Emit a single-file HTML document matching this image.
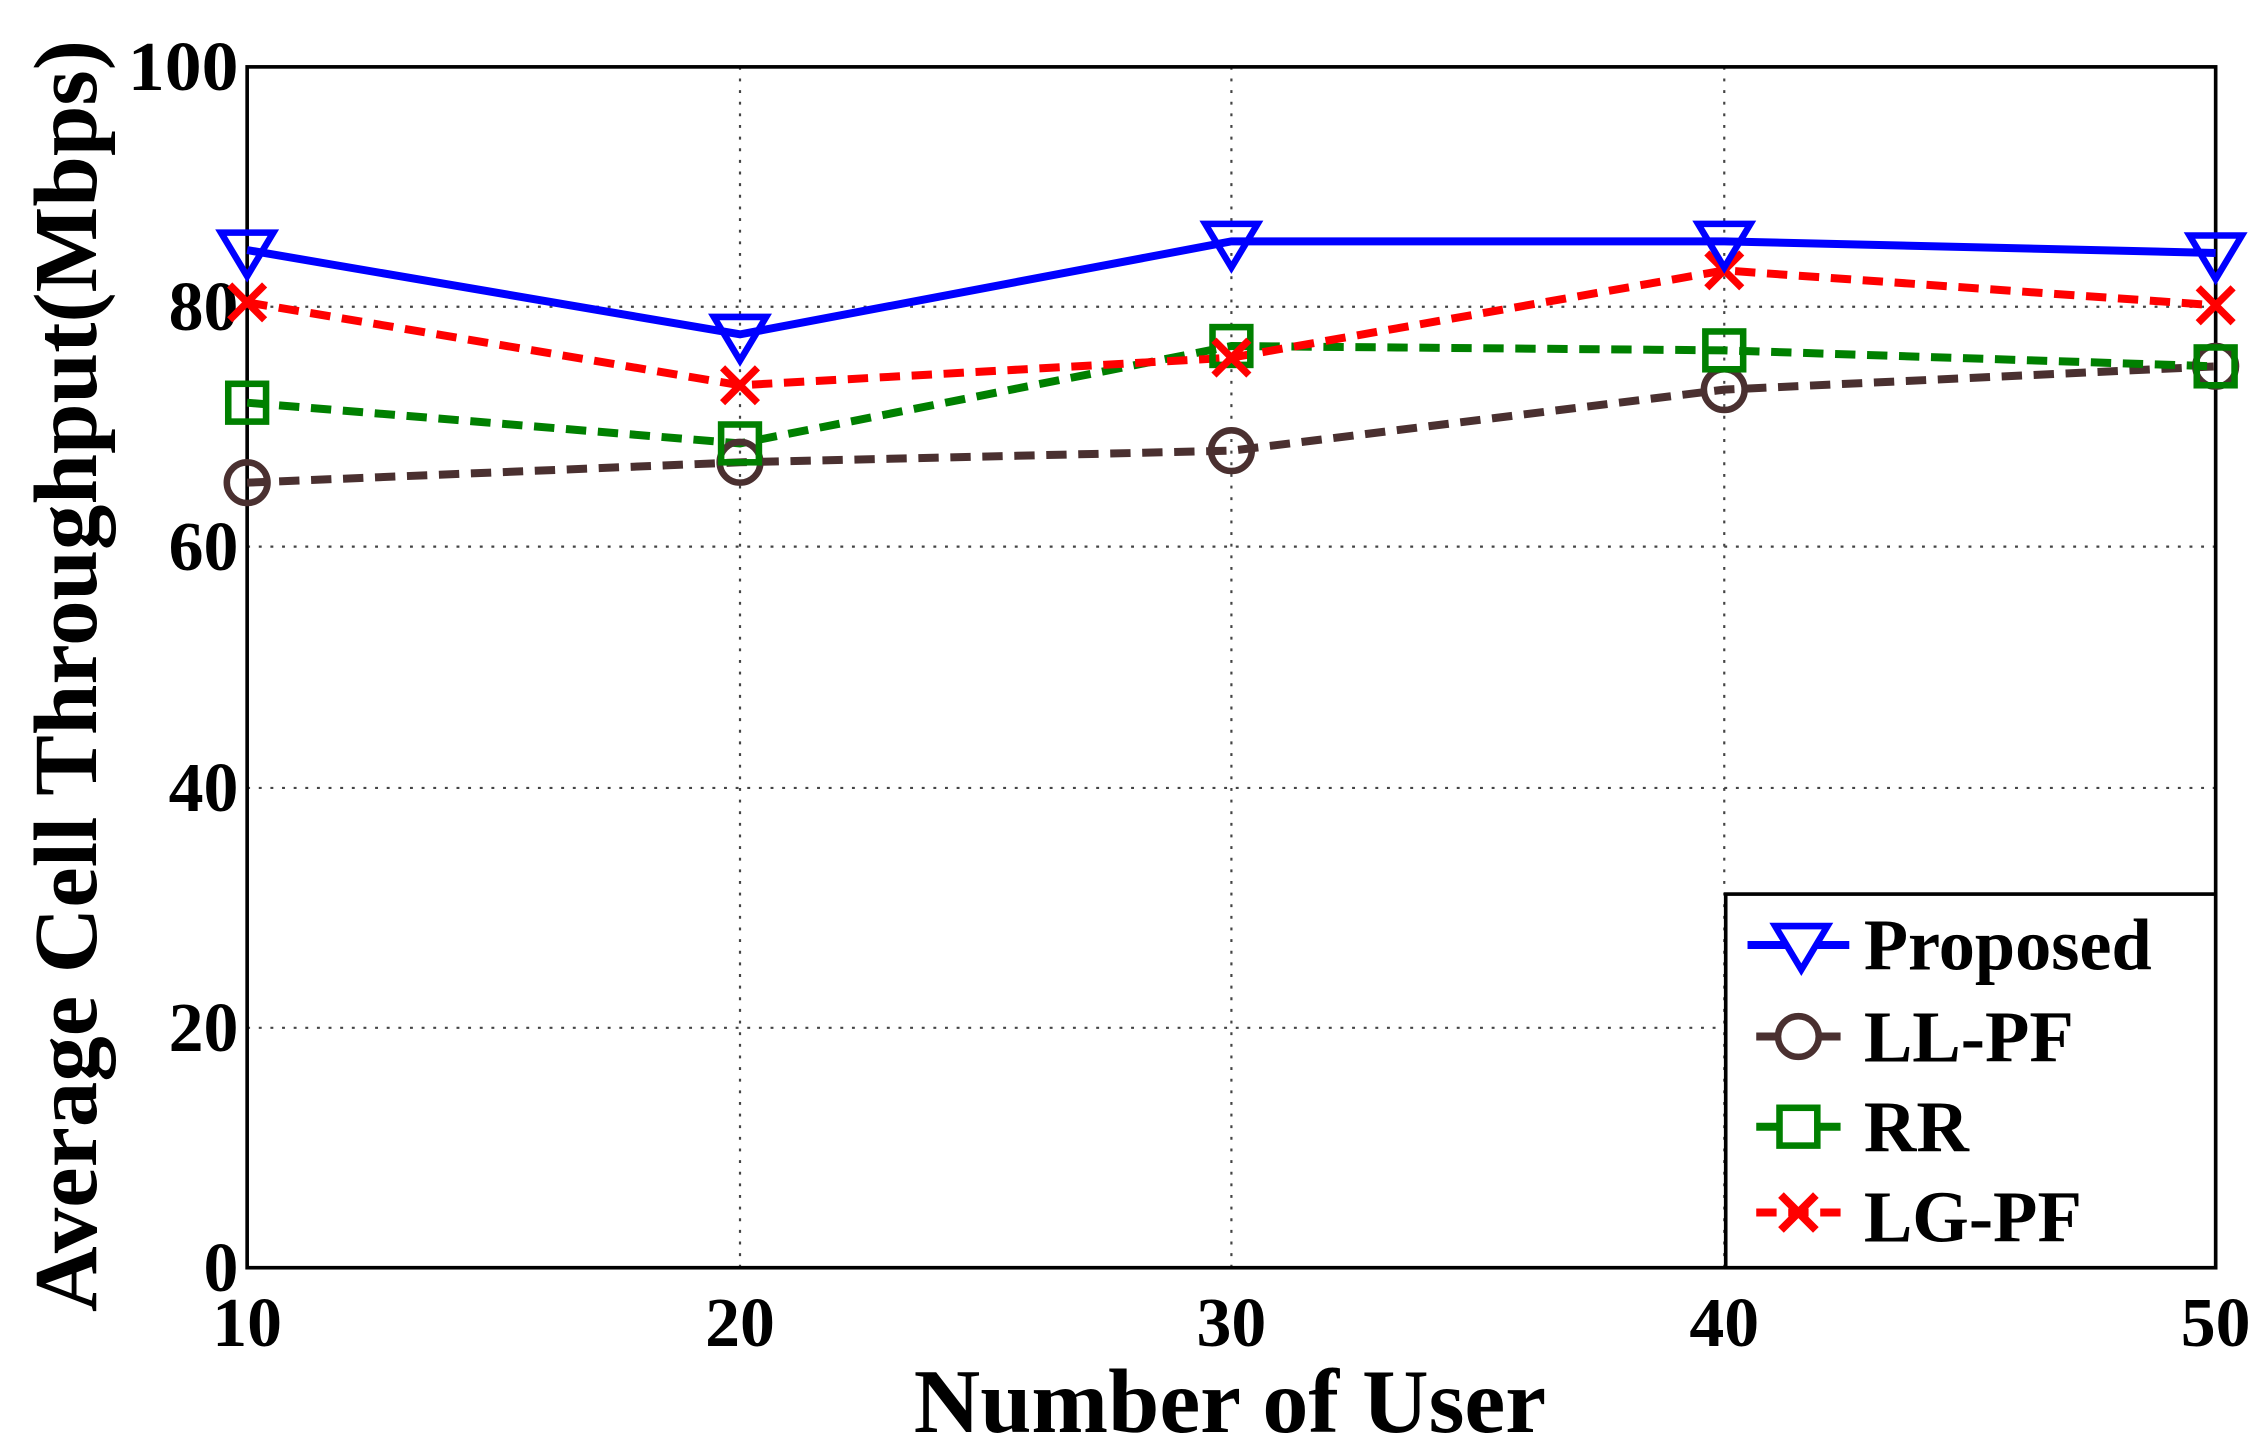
<!DOCTYPE html>
<html><head><style>html,body{margin:0;padding:0;background:#fff}svg{display:block}</style></head>
<body>
<svg width="2268" height="1449" viewBox="0 0 1560 996.7" preserveAspectRatio="none" xmlns="http://www.w3.org/2000/svg" font-family="Liberation Serif, serif" font-weight="bold">
<rect width="1560" height="997" fill="#fff"/>
<g stroke="#444" stroke-width="1.5" stroke-dasharray="2,6">
<line x1="509" y1="46" x2="509" y2="872"/><line x1="847" y1="46" x2="847" y2="872"/><line x1="1186" y1="46" x2="1186" y2="872"/>
<line x1="170" y1="211" x2="1524" y2="211"/><line x1="170" y1="376" x2="1524" y2="376"/><line x1="170" y1="542" x2="1524" y2="542"/><line x1="170" y1="707" x2="1524" y2="707"/>
</g>
<rect x="170" y="46" width="1354" height="826" fill="none" stroke="#000" stroke-width="2.5"/>
<g font-size="48" text-anchor="end">
<text x="164" y="62" textLength="76" lengthAdjust="spacingAndGlyphs">100</text><text x="164" y="227">80</text><text x="164" y="392">60</text><text x="164" y="558">40</text><text x="164" y="723">20</text><text x="164" y="888">0</text>
</g>
<g font-size="48" text-anchor="middle">
<text x="170" y="926">10</text><text x="509" y="926">20</text><text x="847" y="926">30</text><text x="1186" y="926">40</text><text x="1524" y="926">50</text>
</g>
<text x="846" y="985" font-size="63" text-anchor="middle" textLength="435" lengthAdjust="spacingAndGlyphs">Number of User</text>
<text transform="translate(66,465) rotate(-90)" font-size="62" text-anchor="middle" textLength="875" lengthAdjust="spacingAndGlyphs">Average Cell Throughput(Mbps)</text>
<g fill="none" stroke-width="5.5">
<polyline stroke="#4a3030" stroke-dasharray="14,8" points="170,332 509,318 847,310 1186,268 1524,252"/>
<polyline stroke="#008000" stroke-dasharray="14,8" points="170,277 509,305 847,238 1186,241 1524,252"/>
<polyline stroke="#ff0000" stroke-dasharray="14,8" points="170,208 509,265 847,246 1186,186 1524,210"/>
<polyline stroke="#0000ff" points="170,172 509,230 847,166 1186,166 1524,174"/>
</g>
<g fill="none" stroke="#4a3030" stroke-width="4.5">
<circle cx="170" cy="332" r="14"/><circle cx="509" cy="318" r="14"/><circle cx="847" cy="310" r="14"/><circle cx="1186" cy="268" r="14"/><circle cx="1524" cy="252" r="14"/>
</g>
<g fill="none" stroke="#008000" stroke-width="4.5">
<rect x="157" y="264" width="26" height="26"/><rect x="496" y="292" width="26" height="26"/><rect x="834" y="225" width="26" height="26"/><rect x="1173" y="228" width="26" height="26"/><rect x="1511" y="239" width="26" height="26"/>
</g>
<g stroke="#ff0000" stroke-width="5">
<path d="M158,196l24,24M182,196l-24,24M497,253l24,24M521,253l-24,24M835,234l24,24M859,234l-24,24M1174,174l24,24M1198,174l-24,24M1512,198l24,24M1536,198l-24,24"/>
</g>
<g fill="none" stroke="#0000ff" stroke-width="4.5">
<path d="M152,160h36l-18,30z M491,218h36l-18,30z M829,154h36l-18,30z M1168,154h36l-18,30z M1506,162h36l-18,30z"/>
</g>
<rect x="1187" y="615" width="337" height="257" fill="#fff" stroke="#000" stroke-width="2.5"/>
<g stroke-width="5.5" fill="none">
<line x1="1202" y1="650" x2="1272" y2="650" stroke="#0000ff"/><path d="M1221,637h36l-18,30z" stroke="#0000ff" stroke-width="4.5" fill="#fff"/>
<line x1="1208" y1="713" x2="1266" y2="713" stroke="#4a3030"/><circle cx="1237" cy="713" r="14" stroke="#4a3030" stroke-width="4.5" fill="#fff"/>
<line x1="1208" y1="775" x2="1266" y2="775" stroke="#008000"/><rect x="1224" y="762" width="26" height="26" stroke="#008000" stroke-width="4.5" fill="#fff"/>
<line x1="1208" y1="834" x2="1266" y2="834" stroke="#ff0000" stroke-dasharray="14,8"/><path d="M1225,822l24,24M1249,822l-24,24" stroke="#ff0000"/>
</g>
<g font-size="50">
<text x="1282" y="667" textLength="198" lengthAdjust="spacingAndGlyphs">Proposed</text><text x="1282" y="730">LL-PF</text><text x="1282" y="792">RR</text><text x="1282" y="854">LG-PF</text>
</g>
</svg>
</body></html>
